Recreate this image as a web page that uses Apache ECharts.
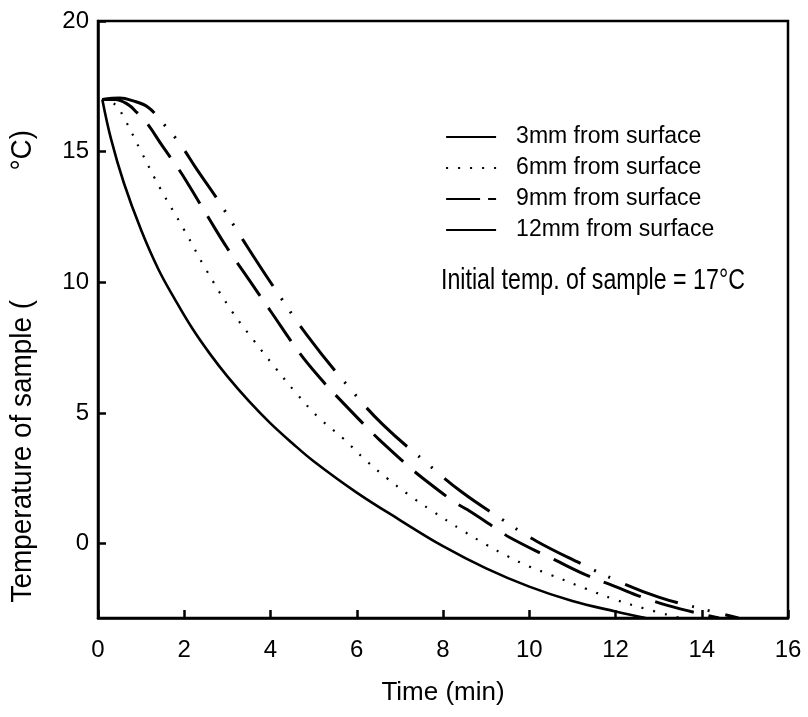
<!DOCTYPE html>
<html>
<head>
<meta charset="utf-8">
<script src="https://cdn.jsdelivr.net/npm/echarts@6/dist/echarts.min.js"></script>
<style>html,body{margin:0;padding:0;background:#fff}#c{width:808px;height:717px}</style>
</head>
<body>
<div id="c"></div>
<script>
// Data (time in min, temperature in °C)
const seriesNames = ['3mm from surface', '6mm from surface', '9mm from surface', '12mm from surface'];
const d3mm = [[0.1,17],[0.3,15.5],[0.6,13.8],[1.0,12.0],[1.4,10.5],[1.8,9.3],[2.2,8.2],[2.6,7.25],[3.0,6.4],[3.5,5.45],[4.0,4.6],[4.5,3.85],[5.0,3.15],[6.0,1.95],[7.0,0.9],[8.0,-0.1],[9.0,-0.95],[10.0,-1.65],[11.0,-2.2],[12.0,-2.6],[12.7,-2.85]];
const d6mm = [[0.1,17],[0.4,16.8],[0.6,16.3],[1.0,15.0],[1.44,13.6],[2.0,12.0],[2.5,10.5],[3.1,8.9],[3.6,7.8],[4.1,6.75],[4.6,5.75],[5.1,4.85],[5.7,4.0],[6.2,3.2],[6.7,2.5],[7.2,1.87],[7.7,1.3],[8.5,0.45],[9.0,-0.04],[9.5,-0.49],[10.0,-0.88],[10.5,-1.2],[11.3,-1.72],[12.0,-2.15],[12.7,-2.5],[13.5,-2.85]];
const d9mm = [[0.1,17],[0.4,17.0],[0.7,16.8],[0.9,16.5],[1.13,16.1],[1.5,15.2],[1.8,14.5],[2.0,14.0],[2.57,12.45],[3.0,11.3],[3.5,10.1],[4.0,8.9],[4.68,7.28],[5.22,6.2],[5.5,5.7],[6.26,4.4],[6.52,3.98],[7.26,2.87],[7.54,2.49],[8.28,1.57],[8.56,1.3],[9.3,0.5],[9.55,0.23],[10.32,-0.42],[10.57,-0.61],[11.3,-1.19],[12.0,-1.65],[12.7,-2.1],[13.5,-2.5],[14.4,-2.85]];
const d12mm = [[0.1,17],[0.5,17.05],[0.8,16.95],[1.16,16.7],[1.5,16.1],[1.9,15.3],[2.3,14.3],[2.76,13.2],[3.35,11.65],[4.0,10.0],[4.85,7.97],[5.84,5.94],[6.6,4.56],[7.63,3.07],[8.42,1.99],[9.41,0.88],[10.18,0.08],[11.2,-0.77],[12.0,-1.4],[13.0,-2.05],[14.0,-2.5],[14.85,-2.85]];
const yTicks = [0, 5, 10, 15, 20];
const xMin = 0, xMax = 16, xStep = 2;
const yMin = -2.85, yMax = 20;

const FONT = "'Liberation Sans', Arial, sans-serif";
const chart = echarts.init(document.getElementById('c'), null, {renderer: 'canvas'});
const lineStyles = [
  {color: '#000', width: 2.6, type: 'solid'},
  {color: '#000', width: 2.2, type: [2, 10]},
  {color: '#000', width: 3, type: [40, 15]},
  {color: '#000', width: 3, type: [56, 15, 2, 14, 2, 16]}
];
const legendLineTypes = ['solid', [2, 10], [34, 8, 8, 8], 'solid'];
const datas = [d3mm, d6mm, d9mm, d12mm];
chart.setOption({
  animation: false,
  backgroundColor: '#fff',
  grid: {left: 98, right: 20, top: 21, bottom: 99, show: true, borderColor: '#000', borderWidth: 2.5, backgroundColor: 'transparent'},
  legend: {
    orient: 'vertical', left: 440, top: 120, itemWidth: 50, itemHeight: 14, itemGap: 7,
    itemStyle: {opacity: 0},
    textStyle: {fontFamily: FONT, fontSize: 23, color: '#000', lineHeight: 24, padding: [0, 0, 0, 15]},
    data: seriesNames.map((n, i) => ({name: n, itemStyle: {opacity: 0}, lineStyle: {type: legendLineTypes[i], width: 2.2}}))
  },
  xAxis: {
    type: 'value', min: xMin, max: xMax, interval: xStep,
    name: 'Time (min)', nameLocation: 'middle', nameGap: 62,
    nameTextStyle: {fontFamily: FONT, fontSize: 26, color: '#000'},
    axisLine: {show: true, onZero: false, lineStyle: {color: '#000', width: 2.5}},
    axisTick: {show: true, inside: true, length: 8, lineStyle: {color: '#000', width: 2.5}},
    axisLabel: {fontFamily: FONT, fontSize: 24, color: '#000', margin: 20},
    splitLine: {show: false}
  },
  yAxis: {
    type: 'value', min: yMin, max: yMax,
    axisLine: {show: true, onZero: false, lineStyle: {color: '#000', width: 2.5}},
    axisTick: {show: true, inside: true, length: 8, customValues: yTicks, lineStyle: {color: '#000', width: 2.5}},
    axisLabel: {fontFamily: FONT, fontSize: 24, color: '#000', margin: 9, customValues: yTicks},
    splitLine: {show: false}
  },
  graphic: [
    {type: 'text', left: 8, top: 300, rotation: Math.PI / 2, scaleX: 0.93,
     style: {text: 'Temperature of sample (', fontFamily: FONT, fontSize: 30, fill: '#000'}},
    {type: 'text', left: 8, top: 130, rotation: Math.PI / 2, scaleX: 0.93,
     style: {text: '°C)', fontFamily: FONT, fontSize: 30, fill: '#000'}},
    {type: 'text', left: 441, top: 266, scaleX: 0.8,
     style: {text: 'Initial temp. of sample = 17°C', fontFamily: FONT, fontSize: 29, fill: '#000'}}
  ],
  series: datas.map((d, i) => ({
    name: seriesNames[i], type: 'line', data: d, smooth: 0.4, showSymbol: false, symbol: 'none',
    lineStyle: lineStyles[i], itemStyle: {color: '#000'}, clip: true
  }))
});
</script>
</body>
</html>
